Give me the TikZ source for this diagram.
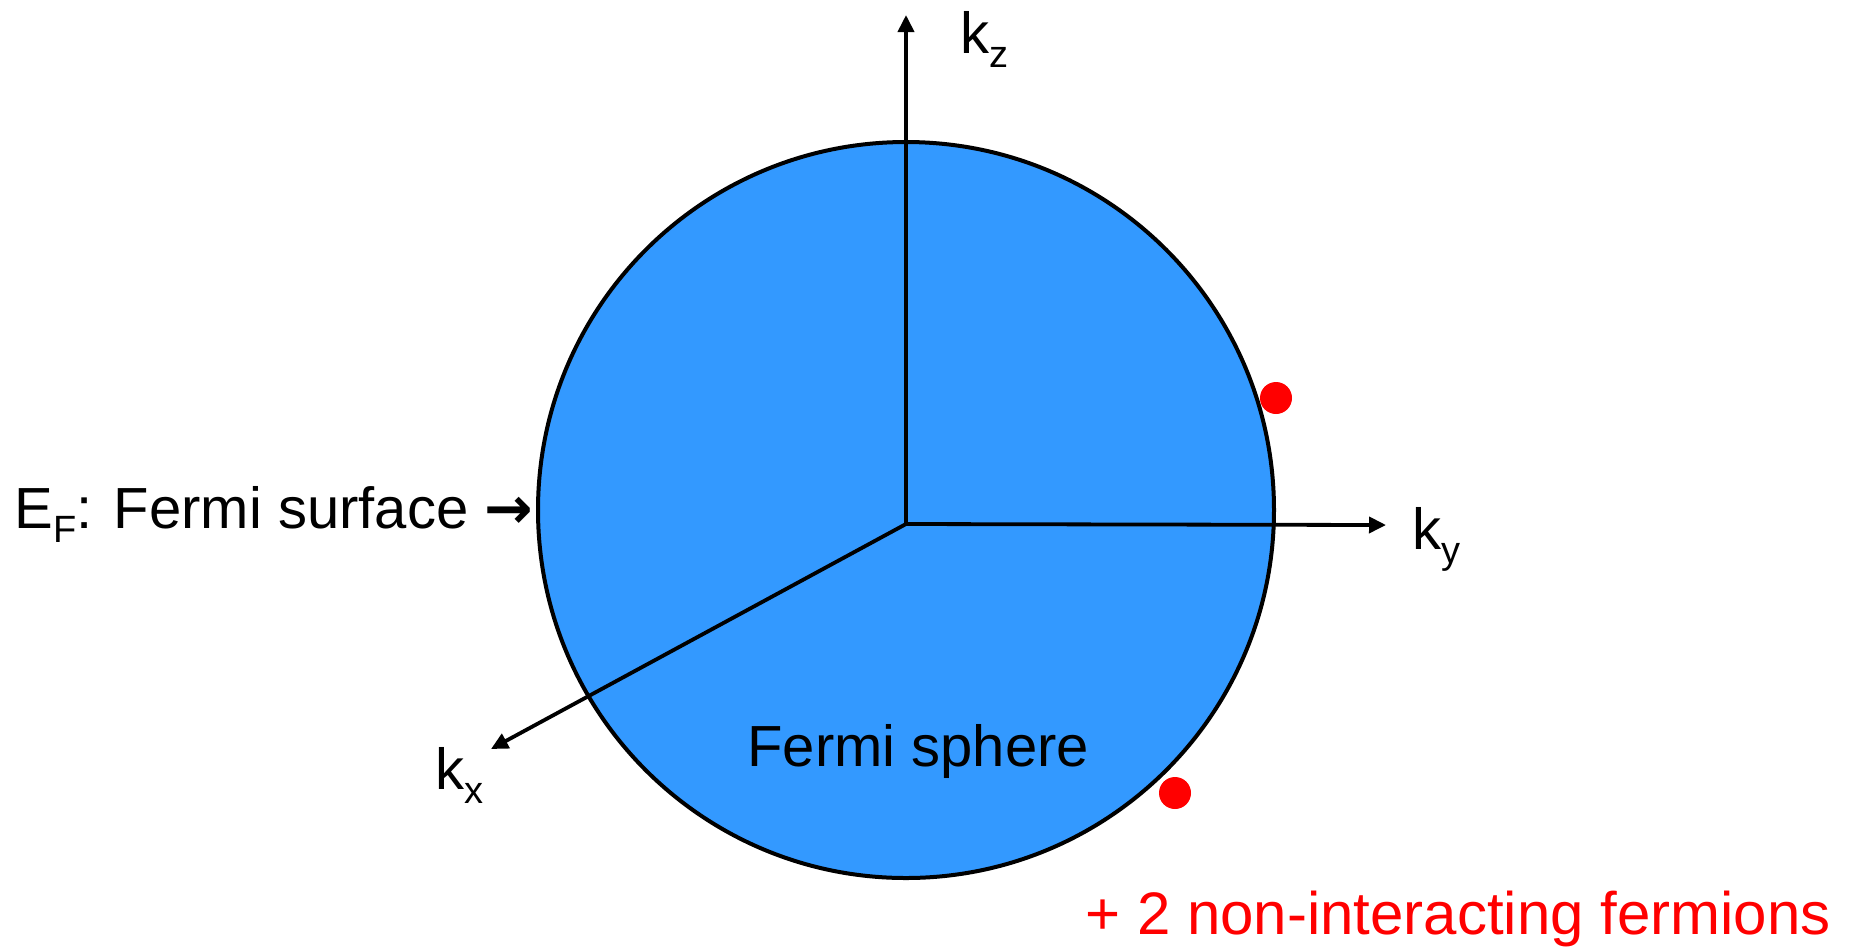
\documentclass[tikz,border=0pt]{standalone}
\usepackage{fontspec}
\setmainfont{Liberation Sans}
\newfontfamily\arrowfont{DejaVu Sans}
\usetikzlibrary{arrows.meta, positioning}
\definecolor{sphereFill}{RGB}{51, 153, 255}
\definecolor{fermionRed}{RGB}{255, 0, 0}
\newcommand{\lowsub}[1]{\raisebox{-7pt}{\fontsize{19}{19}\selectfont #1}}

\begin{document}
\begin{tikzpicture}[
    x=0.5pt, y=-0.5pt,
    font=\fontsize{29}{34}\selectfont,
    >={Triangle[length=8.5pt, width=8pt]},
    sphereBox/.style={circle, fill=sphereFill, draw=black, line width=2pt, minimum size=368pt, inner sep=0pt},
    fermionDot/.style={circle, fill=fermionRed, minimum size=16pt, inner sep=0pt},
    axisArrow/.style={->, line width=1.9pt},
    textLabel/.style={anchor=base west, inner sep=0pt},
    fermionText/.style={textLabel, text=fermionRed, font=\fontsize{30}{34}\selectfont}
]
    \useasboundingbox (0,0) rectangle (1854,950);

    % Sphere
    \node[sphereBox] (sphere) at (906,510) {};
    \node[textLabel] (sphereText) at (747,766) {Fermi sphere};

    % Axes
    \coordinate (origin) at (906,524);
    \coordinate (kzTip) at (906,15);
    \coordinate (kyTip) at (1386,525);
    \coordinate (kxTip) at (491,749);
    \draw[axisArrow] (origin) -- (kzTip);
    \draw[axisArrow] (origin) -- (kyTip);
    \draw[axisArrow] (origin) -- (kxTip);

    \node[textLabel] (kzLabel) at (960,53) {k\lowsub{z}};
    \node[textLabel] (kyLabel) at (1412,549) {k\lowsub{y}};
    \node[textLabel] (kxLabel) at (435,789) {k\lowsub{x}};

    % Fermi surface
    \node[textLabel] (surfText) at (14,528) {E\lowsub{F}: Fermi surface {\arrowfont\bfseries →}};

    % Fermions
    \node[fermionDot] (dotA) at (1276,398) {};
    \node[fermionDot] (dotB) at (1175,793) {};
    \node[fermionText] (fermText) at (1085,934) {+ 2 non-interacting fermions};

\end{tikzpicture}
\end{document}
